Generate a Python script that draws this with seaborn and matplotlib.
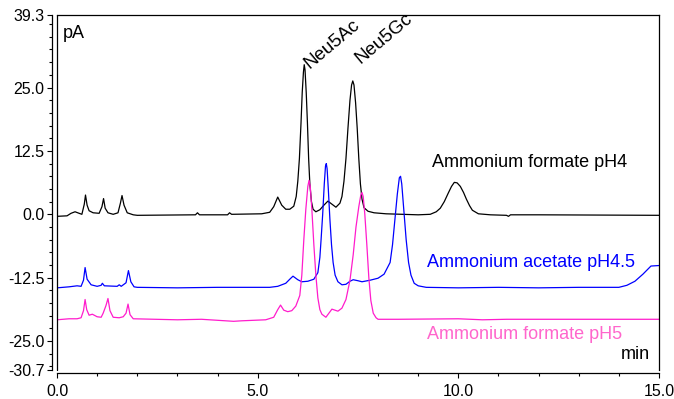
import numpy as np
import pandas as pd
import matplotlib
matplotlib.use("Agg")
import matplotlib.pyplot as plt
from matplotlib.lines import Line2D
from matplotlib.ticker import FixedLocator, MultipleLocator
import seaborn as sns

# ---------------- data ----------------
series_names = ["Ammonium formate pH4", "Ammonium acetate pH4.5", "Ammonium formate pH5"]
peak_names = ["Neu5Ac", "Neu5Gc"]

black_t = [0.0, 0.25, 0.35, 0.45, 0.55, 0.62, 0.68, 0.71, 0.75, 0.8, 0.9, 1.05, 1.12, 1.16,
           1.2, 1.27, 1.4, 1.52, 1.58, 1.62, 1.67, 1.75, 1.9, 2.0, 3.45, 3.5, 3.55, 4.25,
           4.3, 4.35, 5.1, 5.3, 5.4, 5.5, 5.6, 5.7, 5.8, 5.9, 5.96, 6.0, 6.04, 6.08, 6.11,
           6.14, 6.16, 6.18, 6.21, 6.24, 6.27, 6.3, 6.34, 6.38, 6.45, 6.55, 6.65, 6.75, 6.85,
           6.95, 7.05, 7.1, 7.15, 7.2, 7.25, 7.3, 7.34, 7.37, 7.4, 7.44, 7.48, 7.52, 7.56,
           7.6, 7.65, 7.75, 7.9, 8.2, 8.6, 9.0, 9.3, 9.45, 9.55, 9.65, 9.75, 9.83, 9.9, 9.97,
           10.05, 10.13, 10.2, 10.28, 10.35, 10.5, 10.8, 11.2, 11.25, 11.3, 12.0, 15.0]
black_pa = [-0.4, -0.3, 0.2, 0.5, 0.2, 0.0, 2.0, 3.8, 1.8, 0.7, 0.3, 0.2, 1.5, 3.1,
            1.2, 0.3, 0.0, 0.3, 2.2, 3.7, 1.8, 0.3, -0.1, -0.2, -0.1, 0.3, -0.1, -0.1,
            0.3, 0.0, 0.1, 0.4, 1.5, 3.4, 1.8, 1.0, 1.0, 1.6, 3.5, 6.5, 11.0, 18.0, 24.0,
            28.0, 29.5, 28.5, 24.0, 18.0, 11.0, 6.0, 2.5, 1.0, 0.5, 0.9, 1.8, 2.6, 2.0,
            1.4, 2.2, 3.5, 6.5, 11.0, 17.0, 22.5, 25.5, 26.3, 25.5, 22.0, 17.0, 11.0, 6.0,
            3.0, 1.3, 0.6, 0.3, 0.1, 0.0, -0.1, 0.0, 0.5, 1.2, 2.5, 4.2, 5.5, 6.3, 6.2,
            5.5, 4.3, 3.0, 1.7, 0.8, 0.1, -0.1, -0.2, -0.4, -0.1, -0.1, -0.2]

blue_t = [0.0, 0.3, 0.5, 0.6, 0.66, 0.7, 0.75, 0.85, 1.0, 1.1, 1.13, 1.18, 1.5, 1.55, 1.6,
          1.72, 1.78, 1.84, 1.92, 2.0, 3.0, 4.0, 5.3, 5.5, 5.7, 5.8, 5.88, 6.0, 6.1, 6.25,
          6.4, 6.5, 6.55, 6.58, 6.62, 6.66, 6.69, 6.71, 6.73, 6.76, 6.8, 6.84, 6.88, 6.93,
          7.0, 7.1, 7.2, 7.3, 7.38, 7.5, 7.6, 7.8, 8.0, 8.15, 8.3, 8.36, 8.42, 8.48, 8.53,
          8.56, 8.59, 8.64, 8.7, 8.76, 8.82, 8.9, 9.0, 9.2, 10.0, 11.0, 12.0, 13.0, 14.0,
          14.2, 14.4, 14.6, 14.8, 15.0]
blue_pa = [-14.5, -14.3, -14.1, -14.2, -13.0, -10.5, -12.8, -13.9, -14.2, -14.0, -13.6, -14.1,
           -14.2, -13.9, -14.2, -13.5, -11.1, -13.3, -14.3, -14.4, -14.5, -14.4, -14.4, -14.2,
           -13.6, -12.8, -12.2, -12.9, -13.3, -13.2, -12.8, -11.5, -8.5, -5.0, 0.0, 6.0, 9.5,
           10.0, 9.0, 5.0, -1.0, -6.0, -9.5, -12.0, -13.3, -13.9, -13.8, -13.2, -12.9, -13.1,
           -13.3, -13.0, -12.6, -11.8, -9.5, -6.0, -1.0, 4.0, 7.2, 7.5, 6.0, 1.0, -5.0, -9.5,
           -12.0, -13.6, -14.1, -14.4, -14.5, -14.4, -14.5, -14.4, -14.4, -14.0, -13.2, -11.8,
           -10.2, -10.1]

pink_t = [0.0, 0.3, 0.5, 0.6, 0.66, 0.7, 0.74, 0.8, 0.88, 1.0, 1.1, 1.15, 1.22, 1.27, 1.32,
          1.4, 1.55, 1.65, 1.72, 1.77, 1.82, 1.9, 3.0, 3.6, 4.0, 4.4, 4.6, 5.2, 5.4, 5.5,
          5.57, 5.65, 5.75, 5.85, 5.95, 6.05, 6.1, 6.15, 6.2, 6.25, 6.28, 6.31, 6.35, 6.4,
          6.45, 6.5, 6.55, 6.6, 6.7, 6.85, 7.0, 7.1, 7.2, 7.3, 7.38, 7.45, 7.52, 7.57, 7.6,
          7.63, 7.67, 7.72, 7.77, 7.82, 7.88, 7.95, 8.0, 8.5, 10.0, 10.6, 11.2, 12.0, 15.0]
pink_pa = [-20.8, -20.6, -20.6, -20.4, -19.0, -16.8, -18.8, -19.9, -19.7, -20.2, -20.3, -19.5,
           -18.0, -16.6, -19.0, -20.3, -20.4, -20.2, -19.5, -17.7, -19.8, -20.6, -20.8, -20.7,
           -20.9, -21.1, -21.0, -20.8, -20.3, -18.8, -17.9, -18.9, -19.2, -19.0, -18.1, -16.0,
           -12.0, -5.0, 1.0, 5.5, 6.7, 5.5, 1.0, -6.0, -12.0, -16.5, -18.8, -19.7, -20.3,
           -18.7, -19.1, -18.5, -16.8, -13.0, -8.0, -2.5, 1.5, 3.8, 4.3, 3.5, 0.0, -6.0,
           -12.5, -17.0, -19.5, -20.4, -20.7, -20.7, -20.6, -20.8, -20.7, -20.7, -20.7]

y_ticks = [-30.7, -25.0, -12.5, 0.0, 12.5, 25.0, 39.3]
x_ticks = [0.0, 5.0, 10.0, 15.0]

# ---------------- styling ----------------
sns.set_theme(style="ticks")
plt.rcParams['font.family'] = ['Liberation Sans', 'DejaVu Sans']

line_color = ["black", "#0000ff", "#ff1ccc"]
text_color = ["black", "#0000ff", "#ff66cc"]

fig = plt.figure(figsize=(6.74, 3.99), dpi=100)
ax = fig.add_axes([57 / 674, 1 - 370 / 399, 602 / 674, 355 / 399])

frames = [pd.DataFrame({"t": black_t, "pA": black_pa}),
          pd.DataFrame({"t": blue_t, "pA": blue_pa}),
          pd.DataFrame({"t": pink_t, "pA": pink_pa})]
for df, c in zip(frames, line_color):
    sns.lineplot(data=df, x="t", y="pA", ax=ax, color=c, lw=0.9, sort=False, estimator=None)

ax.set_xlim(0, 15)
ax.set_ylim(-30.7, 39.3)
ax.set_xlabel("")
ax.set_ylabel("")

for s in ax.spines.values():
    s.set_color("black")
    s.set_linewidth(0.9)
ax.spines["left"].set_position(("outward", 3.5))
ax.spines["bottom"].set_position(("outward", 2.5))
# frame left line
ax.add_line(Line2D([0, 0], [0, 1], transform=ax.transAxes, color="black", lw=0.9, clip_on=False))

ax.set_yticks(y_ticks)
ax.set_yticklabels([f"{v:.1f}" for v in y_ticks])
ax.yaxis.set_minor_locator(FixedLocator(np.arange(-30.0, 39.0, 2.5)))
ax.set_xticks(x_ticks)
ax.set_xticklabels([f"{v:.1f}" for v in x_ticks])
ax.xaxis.set_minor_locator(MultipleLocator(1.0))
ax.tick_params(which="major", length=3.6, width=0.8, color="black", labelsize=11.5,
               labelcolor="black", pad=2)
ax.tick_params(which="minor", length=2.2, width=0.8, color="black")
ax.tick_params(axis="x", which="major", pad=4)

# annotations
ax.text(9.34, 10.3, series_names[0], color=text_color[0], fontsize=13, va="center")
ax.text(9.22, -9.5, series_names[1], color=text_color[1], fontsize=13, va="center")
ax.text(9.22, -23.7, series_names[2], color=text_color[2], fontsize=13, va="center")
ax.text(14.77, -27.6, "min", color="black", fontsize=13, va="center", ha="right")
ax.text(0.15, 35.7, "pA", color="black", fontsize=13, va="center", ha="left")
ax.text(6.3, 28.6, peak_names[0], color="black", fontsize=13.5, rotation=40,
        rotation_mode="anchor", ha="left", va="baseline")
ax.text(7.56, 29.6, peak_names[1], color="black", fontsize=13.5, rotation=40,
        rotation_mode="anchor", ha="left", va="baseline")

fig.savefig("out.png", dpi=100)
